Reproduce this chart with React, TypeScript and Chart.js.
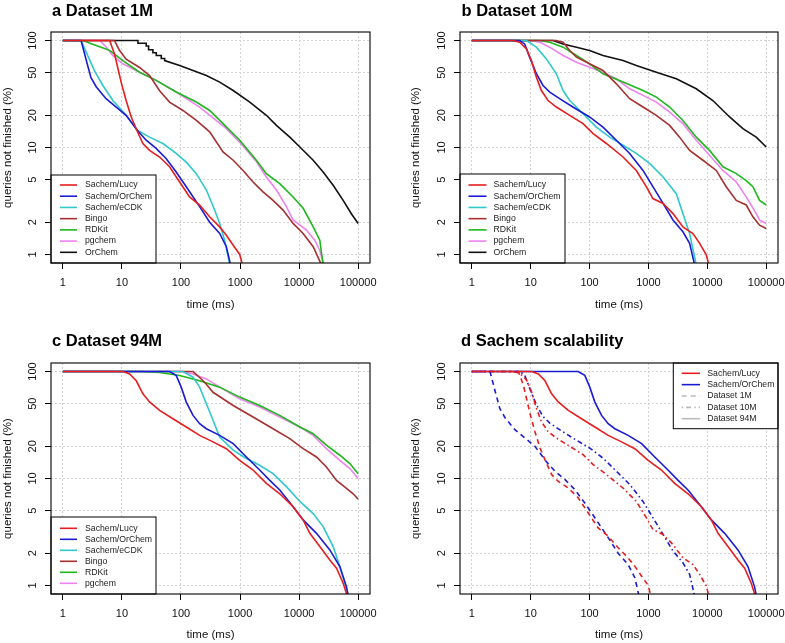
import React, { useEffect, useRef } from 'react';
import { Chart, registerables } from 'chart.js';
Chart.register(...registerables);

type Pt = [number, number];

// ---- axis ticks ----
const X_TICKS = [1, 10, 100, 1000, 10000, 100000];
const Y_TICKS = [1, 2, 5, 10, 20, 50, 100];
const X_MIN = Math.pow(10, -0.2);
const X_MAX = Math.pow(10, 5.2);
const Y_MIN = Math.pow(10, -0.08);
const Y_MAX = Math.pow(10, 2.08);

// ---- series labels ----
const LABELS = ['Sachem/Lucy', 'Sachem/OrChem', 'Sachem/eCDK', 'Bingo', 'RDKit', 'pgchem', 'OrChem'];
const DATASET_LABELS = ['Dataset 1M', 'Dataset 10M', 'Dataset 94M'];

// ---- a: Dataset 1M (time ms, % queries not finished) ----
const A_LUCY: Pt[] = [[1,100],[6.2,100],[7.5,75],[8.5,56],[9.8,40],[11.8,27.5],[14.4,19.3],[18.2,14.2],[22.7,10.9],[29.4,9.4],[43.5,8.15],[64,6.6],[95,4.76],[140,3.45],[207,2.89],[306,2.25],[452,1.81],[587,1.51],[766,1.22],[987,1.0],[1100,0.8]];
const A_ORCHEM_S: Pt[] = [[1,100],[2.04,100],[2.5,65],[3.0,45],[3.67,37],[5.4,28.6],[8,23.9],[11.8,20],[18.2,14.5],[25.8,11.7],[38,9.8],[56,7.9],[83,5.9],[123,4.3],[207,2.8],[306,2.0],[452,1.57],[587,1.18],[690,0.8]];
const A_ECDK: Pt[] = [[1,100],[2.04,100],[2.65,72],[3.44,52],[4.76,38],[7.04,27.5],[11.8,20],[18.2,14.5],[29.4,12.5],[49.5,10.9],[83,8.8],[123,7.3],[182,5.7],[269,4.0],[372,2.6],[452,1.95],[549,1.36],[670,0.8]];
const A_BINGO: Pt[] = [[1,100],[7.5,100],[9.1,81],[11.8,67],[19.9,56],[29.4,47],[43.5,34],[64,26.6],[108,22.2],[182,17.9],[306,14],[515,9.1],[766,7.6],[1125,6.1],[1660,4.76],[2450,3.85],[3620,3.2],[5350,2.6],[7910,1.95],[11700,1.57],[17300,1.18],[23900,0.8]];
const A_RDKIT: Pt[] = [[1,100],[2.3,99],[3.67,90],[6.2,81],[10.4,65],[19.9,50.6],[38,42.4],[83,33],[182,26.6],[306,22.2],[515,16.7],[987,11.7],[1890,7.6],[2790,5.7],[4700,4.6],[7910,3.45],[11700,2.7],[17300,1.81],[22400,1.36],[25500,0.8]];
const A_PGCHEM: Pt[] = [[1,100],[4.2,100],[5.4,87],[7,72.5],[10.4,60.6],[19.9,50.6],[38,42.4],[83,33],[207,23.9],[587,15],[987,11.2],[1890,7.4],[2790,5.3],[4130,4.0],[6100,2.8],[7910,2.1],[13300,1.69],[18400,1.36],[22400,1.09],[26100,0.8]];
const A_ORCHEM: Pt[] = [[1,100],[18.7,100],[18.7,94.5],[25.8,94.5],[25.8,89],[28.3,89],[28.3,82],[33.5,82],[33.5,77],[38.2,77],[38.2,72.5],[46.4,72.5],[46.4,68],[53,68],[53,65],[95,58.5],[160,52.5],[269,47.1],[452,40.9],[766,34.1],[1460,26.6],[2790,20],[4130,16.1],[6950,12.5],[10300,10.1],[17300,7.6],[25500,5.9],[37700,4.44],[55700,3.2],[77100,2.39],[100000,1.95]];

// ---- b: Dataset 10M ----
const B_LUCY: Pt[] = [[1,100],[5,100],[6.5,96.5],[8.5,83.6],[10.3,65],[12.5,45.5],[15.2,34.1],[19.7,27.5],[27.3,23.9],[46,20],[77.5,16.7],[115,13.5],[193,10.9],[370,8.15],[622,6.1],[920,4.3],[1190,3.33],[1770,3.0],[2610,2.41],[3850,1.81],[5700,1.57],[7400,1.27],[9590,0.99],[10600,0.8]];
const B_ORCHEM_S: Pt[] = [[1,100],[6.5,100],[7.9,93],[9.6,70],[12.5,49],[16.2,38],[21.1,33],[31,28.6],[52,23.9],[100,19.3],[169,15.5],[285,11.7],[480,8.8],[808,6.1],[1190,4.3],[1770,3.0],[2610,2.1],[3850,1.63],[5000,1.27],[6080,0.8]];
const B_ECDK: Pt[] = [[1,100],[8.5,100],[12.5,86.7],[18.5,67.4],[27.3,48.9],[35.5,34.1],[46,27.5],[77.5,20.7],[130,15.5],[220,12.5],[370,10.5],[622,8.8],[1047,7.1],[1770,5.3],[2970,3.7],[3850,2.41],[5000,1.57],[6490,0.8]];
const B_BINGO: Pt[] = [[1,100],[27,100],[35.5,96.5],[46,80.7],[60,70],[100,60.6],[169,52.5],[285,39.4],[480,28.6],[808,23.9],[1360,20],[2290,16.1],[3380,12.5],[5000,9.4],[8420,7.6],[14200,6.1],[20900,4.3],[31000,3.2],[45800,2.9],[59400,2.25],[77100,1.88],[100000,1.75]];
const B_RDKIT: Pt[] = [[1,100],[14.3,100],[21,96.5],[35.5,86.7],[60,72.5],[100,60.6],[169,48.9],[370,40.9],[808,34.1],[1360,29.6],[2290,23.9],[3850,17.9],[6490,12.5],[10900,9.4],[18400,6.6],[31000,5.7],[45800,4.9],[59400,4.3],[77100,3.2],[100000,2.9]];
const B_PGCHEM: Pt[] = [[1,100],[9.6,100],[14.3,96.5],[21,86.7],[35.5,72.5],[60,62.8],[100,56.3],[169,50.6],[285,43.9],[480,35.4],[808,30.7],[1360,26.6],[2290,21.4],[3850,16.7],[6490,11.7],[10900,8.45],[18400,6.1],[31000,4.76],[45800,3.45],[67600,2.41],[77100,2.09],[100000,1.95]];
const B_ORCHEM: Pt[] = [[1,100],[24,100],[35.5,93],[60,86.7],[100,80.7],[169,72.5],[370,65],[622,58.5],[1360,50.6],[2970,43.9],[6490,35.4],[12400,27.5],[23900,19.3],[40200,15],[67600,12.5],[100000,10.1]];

// ---- c: Dataset 94M ----
const C_LUCY: Pt[] = [[1,100],[10.4,100],[13.5,95],[17.5,82],[22.7,62],[29.4,52],[43.5,43.3],[73,36.2],[123,30.3],[207,25.3],[349,22],[587,19],[987,14.8],[1660,12],[2790,9],[4700,7.2],[7910,5.45],[11700,4.1],[15200,3.07],[22400,2.31],[33100,1.73],[43000,1.45],[55700,1.05],[65000,0.8]];
const C_ORCHEM_S: Pt[] = [[1,100],[64,100],[83,92],[101,71.5],[123,51.8],[160,38.9],[207,32.5],[269,29.2],[452,25.3],[766,21.2],[1280,15.9],[2150,12],[3190,9.6],[4700,7.8],[7910,5.45],[11700,4.1],[19700,3.07],[33100,2.15],[48900,1.5],[63400,0.97],[68000,0.8]];
const C_ECDK: Pt[] = [[1,100],[108,100],[160,88.6],[207,71.5],[269,50],[349,35],[452,24.4],[766,18.4],[1280,15.4],[2150,13.3],[3620,11.1],[6100,8.4],[10300,6.1],[17300,4.7],[25500,3.55],[37700,2.31],[48900,1.5],[59400,1.05],[68000,0.8]];
const C_BINGO: Pt[] = [[1,100],[160,100],[207,88],[269,76],[349,64],[766,48.2],[1660,37.6],[3620,29.2],[6950,23.6],[11700,19],[19700,15.9],[29000,12.8],[43000,9.6],[63400,8.1],[82200,7.2],[100000,6.4]];
const C_RDKIT: Pt[] = [[1,100],[20,100],[43.5,98],[95,92],[207,82],[452,71.5],[987,57.7],[2150,48.2],[4700,38.9],[10300,30.3],[17300,26.2],[29000,20.5],[48900,16.5],[72300,13.8],[100000,11.1]];
const C_PGCHEM: Pt[] = [[1,100],[108,100],[160,95],[269,85.4],[452,71.5],[987,55.6],[2150,46.6],[4700,37.6],[10300,30.3],[17300,25.3],[29000,19],[48900,14.8],[72300,12.4],[100000,10]];

// ---- styles ----
const RED = '#E61E1E';
const BLUE = '#1B1BD6';
const CYAN = '#2FC8CC';
const BROWN = '#A53030';
const GREEN = '#1CB81C';
const PINK = '#EE82EE';
const BLACK = '#111111';
const LEGEND_GRAY = '#BBBBBB';
const GRID = '#D2D2D2';
const DASH_1M = [5, 4];
const DASH_10M = [1.5, 3, 5, 3];
const FONT = '"Liberation Sans", Arial, Helvetica, sans-serif';

type Series = { label: string; data: Pt[]; color: string; dash?: number[] };
type LegendItem = { label: string; color: string; dash?: number[] };
type PanelCfg = {
  title: string; x: number; y: number; w: number; h: number;
  area: { l: number; t: number; r: number; b: number };
  series: Series[];
  legend: { x: number; y: number; w: number; h: number; y0: number; gap: number; lx0: number; lx1: number; tx: number; items: LegendItem[] };
  titleX: number; titleY: number; yTitlePad: number; xTitlePad: number;
};

const COLORS7 = [RED, BLUE, CYAN, BROWN, GREEN, PINK, BLACK];
const mk = (arrs: Pt[][]): Series[] => arrs.map((d, i) => ({ label: LABELS[i], data: d, color: COLORS7[i] }));
const legendFrom = (s: Series[]): LegendItem[] => s.map(x => ({ label: x.label, color: x.color }));

const SA = mk([A_LUCY, A_ORCHEM_S, A_ECDK, A_BINGO, A_RDKIT, A_PGCHEM, A_ORCHEM]);
const SB = mk([B_LUCY, B_ORCHEM_S, B_ECDK, B_BINGO, B_RDKIT, B_PGCHEM, B_ORCHEM]);
const SC = mk([C_LUCY, C_ORCHEM_S, C_ECDK, C_BINGO, C_RDKIT, C_PGCHEM]);
const SD: Series[] = [
  { label: 'Sachem/Lucy 1M', data: A_LUCY, color: RED, dash: DASH_1M },
  { label: 'Sachem/OrChem 1M', data: A_ORCHEM_S, color: BLUE, dash: DASH_1M },
  { label: 'Sachem/Lucy 10M', data: B_LUCY, color: RED, dash: DASH_10M },
  { label: 'Sachem/OrChem 10M', data: B_ORCHEM_S, color: BLUE, dash: DASH_10M },
  { label: 'Sachem/Lucy 94M', data: C_LUCY, color: RED },
  { label: 'Sachem/OrChem 94M', data: C_ORCHEM_S, color: BLUE },
];
const LEG_D: LegendItem[] = [
  { label: LABELS[0], color: RED },
  { label: LABELS[1], color: BLUE },
  { label: DATASET_LABELS[0], color: LEGEND_GRAY, dash: DASH_1M },
  { label: DATASET_LABELS[1], color: LEGEND_GRAY, dash: DASH_10M },
  { label: DATASET_LABELS[2], color: LEGEND_GRAY },
];

const PANELS: PanelCfg[] = [
  { title: 'a Dataset 1M', x: 0, y: 0, w: 390, h: 320, area: { l: 51, t: 32, r: 370, b: 263 }, series: SA,
    legend: { x: 51, y: 175, w: 105, h: 88, y0: 185, gap: 11.22, lx0: 9, lx1: 26, tx: 34, items: legendFrom(SA) },
    titleX: 52, titleY: 15.5, yTitlePad: 1.1, xTitlePad: 8.1 },
  { title: 'b Dataset 10M', x: 390, y: 0, w: 395, h: 320, area: { l: 70, t: 32, r: 388, b: 263 }, series: SB,
    legend: { x: 70, y: 174, w: 105, h: 89, y0: 185, gap: 11.22, lx0: 8.5, lx1: 26.5, tx: 33.5, items: legendFrom(SB) },
    titleX: 71.5, titleY: 15.5, yTitlePad: 19.1, xTitlePad: 8.1 },
  { title: 'c Dataset 94M', x: 0, y: 320, w: 390, h: 323, area: { l: 51, t: 43, r: 370, b: 274 }, series: SC,
    legend: { x: 51, y: 197, w: 105, h: 77, y0: 208.3, gap: 11, lx0: 9, lx1: 26, tx: 34, items: legendFrom(SC) },
    titleX: 52, titleY: 25.7, yTitlePad: 1.1, xTitlePad: 1.1 },
  { title: 'd Sachem scalability', x: 390, y: 320, w: 395, h: 323, area: { l: 70, t: 43, r: 388, b: 274 }, series: SD,
    legend: { x: 283.3, y: 43, w: 104.7, h: 65.7, y0: 53.3, gap: 11.35, lx0: 8.4, lx1: 26.7, tx: 34, items: LEG_D },
    titleX: 71, titleY: 25.7, yTitlePad: 19.1, xTitlePad: 1.1 },
];

const decor = {
  id: 'rDecor',
  afterDatasetsDraw(chart: any, _args: any, opts: any) {
    const ctx = chart.ctx as CanvasRenderingContext2D;
    const a = chart.chartArea;
    const lg = opts.legend;
    ctx.save();
    if (lg) {
      ctx.fillStyle = '#fff';
      ctx.fillRect(lg.x, lg.y, lg.w, lg.h);
      ctx.strokeStyle = '#000';
      ctx.lineWidth = 1;
      ctx.strokeRect(lg.x, lg.y, lg.w, lg.h);
      lg.items.forEach((it: LegendItem, i: number) => {
        const y = lg.y0 + i * lg.gap;
        ctx.strokeStyle = it.color;
        ctx.lineWidth = 1.6;
        ctx.setLineDash(it.dash || []);
        ctx.beginPath();
        ctx.moveTo(lg.x + lg.lx0, y);
        ctx.lineTo(lg.x + lg.lx1, y);
        ctx.stroke();
        ctx.setLineDash([]);
        ctx.fillStyle = '#222';
        ctx.font = `8.7px ${FONT}`;
        ctx.textBaseline = 'middle';
        ctx.textAlign = 'left';
        ctx.fillText(it.label, lg.x + lg.tx, y);
      });
    }
    ctx.strokeStyle = '#000';
    ctx.lineWidth = 1.1;
    ctx.setLineDash([]);
    ctx.strokeRect(a.left, a.top, a.right - a.left, a.bottom - a.top);
    ctx.fillStyle = '#000';
    ctx.font = `bold 16.5px ${FONT}`;
    ctx.textBaseline = 'alphabetic';
    ctx.textAlign = 'left';
    ctx.fillText(opts.title, opts.titleX, opts.titleY);
    ctx.restore();
  },
};

function buildConfig(p: PanelCfg): any {
  const tickFont = { family: FONT, size: 11 };
  const titleFont = { family: FONT, size: 11.5 };
  return {
    type: 'line',
    data: {
      datasets: p.series.map(s => ({
        label: s.label,
        data: s.data.map(([x, y]) => ({ x, y })),
        borderColor: s.color,
        backgroundColor: s.color,
        borderWidth: 1.6,
        borderDash: s.dash || [],
        pointRadius: 0,
        fill: false,
        tension: 0,
        clip: 0,
      })),
    },
    options: {
      animation: false,
      responsive: false,
      events: [],
      layout: { padding: { left: 0, top: p.area.t, right: p.w - p.area.r, bottom: 0 } },
      plugins: {
        legend: { display: false },
        tooltip: { enabled: false },
        title: { display: false },
        rDecor: { title: p.title, titleX: p.titleX, titleY: p.titleY, legend: p.legend },
      },
      scales: {
        x: {
          type: 'logarithmic', position: 'bottom', min: X_MIN, max: X_MAX, bounds: 'data',
          afterBuildTicks: (s: any) => { s.ticks = X_TICKS.map(v => ({ value: v })); },
          afterFit: (s: any) => { s.height = p.h - p.area.b; s.paddingLeft = 0; s.paddingRight = 0; },
          ticks: { callback: (v: any) => String(v), font: tickFont, color: '#111', padding: 7.4, autoSkip: false, minRotation: 0, maxRotation: 0 },
          grid: { color: GRID, lineWidth: 1, tickColor: '#000', tickLength: 6, tickWidth: 1, drawTicks: true },
          border: { display: false, dash: [2, 2] },
          title: { display: true, text: 'time (ms)', font: titleFont, color: '#111', padding: { top: 0, bottom: p.xTitlePad } },
        },
        y: {
          type: 'logarithmic', position: 'left', min: Y_MIN, max: Y_MAX, bounds: 'data',
          afterBuildTicks: (s: any) => { s.ticks = Y_TICKS.map(v => ({ value: v })); },
          afterFit: (s: any) => { s.width = p.area.l; s.paddingTop = 0; s.paddingBottom = 0; },
          ticks: { callback: (v: any) => String(v), font: tickFont, color: '#111', padding: 2.8, autoSkip: false, minRotation: 90, maxRotation: 90, crossAlign: 'center' },
          grid: { color: GRID, lineWidth: 1, tickColor: '#000', tickLength: 6, tickWidth: 1, drawTicks: true },
          border: { display: false, dash: [2, 2] },
          title: { display: true, text: 'queries not finished (%)', font: titleFont, color: '#111', padding: { top: p.yTitlePad, bottom: 0 } },
        },
      },
    },
    plugins: [decor],
  };
}

function Panel({ p }: { p: PanelCfg }) {
  const ref = useRef<HTMLCanvasElement>(null);
  useEffect(() => {
    if (!ref.current) return;
    const chart = new Chart(ref.current, buildConfig(p));
    return () => chart.destroy();
  }, [p]);
  return (
    <canvas
      ref={ref}
      width={p.w}
      height={p.h}
      style={{ position: 'absolute', left: p.x, top: p.y, width: p.w, height: p.h }}
    />
  );
}

export default function App() {
  return (
    <div style={{ position: 'fixed', left: 0, top: 0, width: 785, height: 643, background: '#fff', overflow: 'hidden' }}>
      {PANELS.map(p => <Panel key={p.title} p={p} />)}
    </div>
  );
}
